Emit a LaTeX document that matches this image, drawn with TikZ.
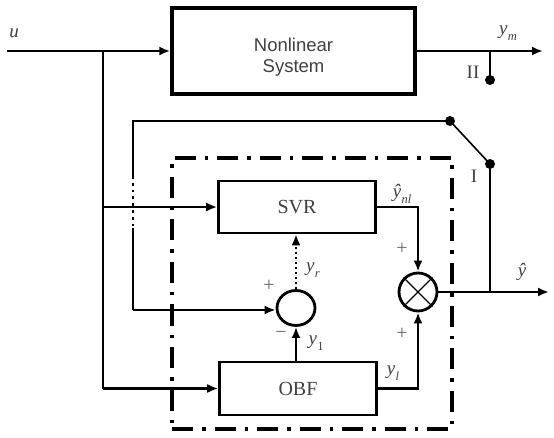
\documentclass[tikz,border=0pt]{standalone}
\usepackage{fontspec}
\setmainfont{Liberation Serif}
\newfontfamily\nlsans{Liberation Sans}
\usetikzlibrary{arrows.meta,shapes.geometric}
\newcommand\lbl[2]{\textit{#1}\kern0.3pt\raisebox{-0.35em}{\fontsize{12.5}{12.5}\selectfont #2}}
\begin{document}
\begin{tikzpicture}[x=1pt,y=-1pt,
 line width=2.4pt,
 arr/.style={-{Latex[length=11pt,width=9pt]}},
 blk/.style={draw, rectangle, line width=2.6pt, inner sep=0pt, font=\fontsize{20}{20}\selectfont, text=black!75},
 lab/.style={font=\fontsize{19}{19}\selectfont, text=black!75, inner sep=0pt},
 sgn/.style={font=\fontsize{20}{20}\selectfont, text=black!60, inner sep=0pt},
 dotnode/.style={circle, fill, inner sep=0pt, minimum size=10pt},
 ddash/.style={draw, line width=3.4pt, dash pattern=on 21pt off 9pt on 3.5pt off 9pt},
]
\useasboundingbox (0,0) rectangle (554,438);

% dash-dot enclosure
\node[ddash, minimum width=280pt, minimum height=271pt, inner sep=0pt] (ddbox) at (312,293.5) {};

% blocks
\node[blk, line width=3.5pt, minimum width=243pt, minimum height=86pt] (nl) at (293.5,51) {};
\node[font=\nlsans\fontsize{18.5}{21}\selectfont, text=black!75, align=center, inner sep=0pt] (nltext) at (293.5,57) {Nonlinear\\System};
\node[blk, minimum width=157pt, minimum height=52pt] (svr) at (297,207) {SVR};
\node[blk, minimum width=157pt, minimum height=53pt] (obf) at (298,388.5) {OBF};
\node[ellipse, draw, line width=2.8pt, minimum width=38pt, minimum height=35pt, inner sep=0pt] (sum) at (296,308) {};
\node[circle, draw, line width=2.8pt, minimum size=38pt, inner sep=0pt] (mult) at (418,292) {};
\draw[line width=1.3pt] (mult.north east) -- (mult.south west);
\draw[line width=1.3pt] (mult.north west) -- (mult.south east);

% input u
\coordinate (uin) at (7,51);
\coordinate (b1) at (103,51);
\coordinate (bSvr) at (103,207);
\coordinate (b1low) at (103,388.5);
\draw[arr] (uin) -- (nl.west);
\draw (b1) -- (b1low);
\draw[arr] (bSvr) -- (svr.west);
\draw[arr] (b1low) -- (obf.west);
\node[lab] (uLab) at (14,33) {\textit{u}};

% plant output
\coordinate (ymend) at (543,51);
\coordinate (iiTop) at (490,51);
\draw[arr] (nl.east) -- (ymend);
\node[dotnode] (iiDot) at (490,80) {};
\draw (iiTop) -- (iiDot.center);
\node[lab] (iiLab) at (473,72) {II};
\node[lab] (ymLab) at (508,33) {\lbl{y}{\textit{m}}};

% switch and feedback
\node[dotnode] (s1) at (450,121) {};
\node[dotnode] (s2) at (490,164) {};
\draw[line width=1.6pt] (s1.center) -- (s2.center);
\node[lab] (iLab) at (474,176) {I};
\coordinate (fbCorner) at (133,121);
\coordinate (fbDotA) at (133,176);
\coordinate (fbDotB) at (133,228);
\coordinate (fbLow) at (133,310);
\draw (s1.center) -- (fbCorner) -- (fbDotA);
\draw[line width=2.8pt, dash pattern=on 2.8pt off 4pt] (fbDotA) -- (fbDotB);
\draw (fbDotB) -- (fbLow);
\draw[arr] (fbLow) -- (sum.west |- fbLow);

% inner connections
\draw[arr, dash pattern=on 2pt off 3pt] (sum.north) -- (svr.south -| sum.north);
\draw[arr] (obf.north -| sum.south) -- (sum.south);
\coordinate (svrCorner) at (418,207);
\coordinate (obfCorner) at (418,388.5);
\draw[arr] (svr.east) -- (svrCorner) -- (mult.north);
\draw[arr] (obf.east) -- (obfCorner) -- (mult.south);

% output
\coordinate (yend) at (549,292);
\coordinate (jn) at (490,292);
\draw[arr] (mult.east) -- (yend);
\draw (s2.center) -- (jn);

% labels
\node[lab] (yhatLab) at (522,272) {\textit{ŷ}};
\node[lab] (ynlLab) at (402,194) {\lbl{ŷ}{\textit{nl}}};
\node[lab] (yrLab) at (313,270) {\lbl{y}{\textit{r}}};
\node[lab] (y1Lab) at (316,343) {\lbl{y}{1}};
\node[lab] (ylLab) at (393,373) {\lbl{y}{\textit{l}}};
\node[sgn] (pA) at (269,286) {+};
\node[sgn] (mA) at (281,335) {−};
\node[sgn] (pB) at (402,249) {+};
\node[sgn] (pC) at (402,334) {+};
\end{tikzpicture}
\end{document}
